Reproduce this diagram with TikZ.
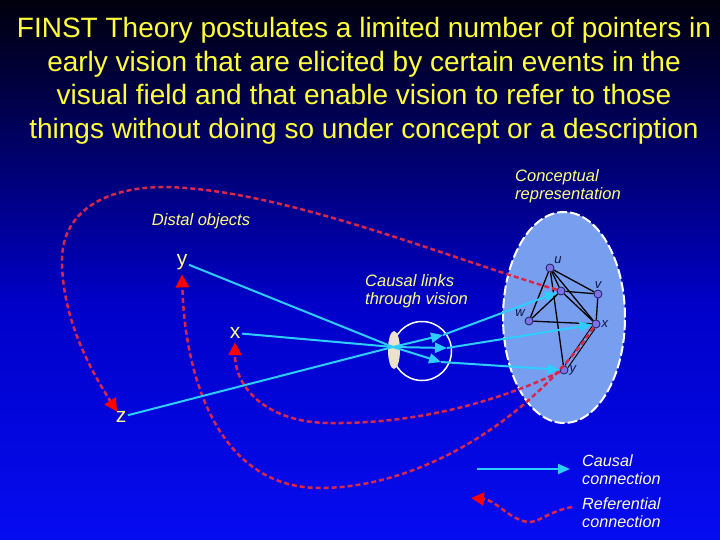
\documentclass[tikz,border=0pt]{standalone}
\usepackage{fontspec}
\setmainfont{Liberation Sans}
\usetikzlibrary{arrows.meta,shapes.geometric}

\definecolor{bgtop}{RGB}{0,0,12}
\definecolor{bga}{RGB}{0,0,105}
\definecolor{bgb}{RGB}{0,0,200}
\definecolor{bgbot}{RGB}{5,12,240}
\definecolor{ttl}{RGB}{255,255,60}
\definecolor{lbl}{RGB}{255,255,130}
\definecolor{lgd}{RGB}{255,255,205}
\definecolor{raycol}{RGB}{45,205,255}
\definecolor{refcol}{RGB}{215,40,75}
\definecolor{conc}{RGB}{120,158,240}
\definecolor{pntcol}{RGB}{125,115,230}
\definecolor{pntline}{RGB}{30,30,90}
\definecolor{clab}{RGB}{15,20,70}
\definecolor{lenscol}{RGB}{235,225,205}

\pgfdeclareverticalshading{bgfade}{100bp}{color(0bp)=(bgbot); color(25bp)=(bgbot);
  color(47bp)=(bgb); color(61bp)=(bga); color(75bp)=(bgtop); color(100bp)=(bgtop)}

\begin{document}
\begin{tikzpicture}[x=1pt,y=1pt,
    pnt/.style={circle,draw=pntline,fill=pntcol,inner sep=0pt,minimum size=8pt,line width=.8pt},
    clbl/.style={text=clab,font=\itshape\fontsize{13}{13}\selectfont,inner sep=1pt},
    dobj/.style={text=lbl,font=\fontsize{21}{21}\selectfont,inner sep=1.5pt},
    lab/.style={text=lbl,font=\itshape\fontsize{16.5}{18.5}\selectfont,align=left,inner sep=0pt},
    lgdtxt/.style={text=lgd,font=\itshape\fontsize{16.2}{18}\selectfont,align=left,inner sep=0pt},
    edge/.style={black,line width=1.3pt},
    ray/.style={draw=raycol,line width=2pt,-{Triangle[length=12pt,width=10pt]}},
    refline/.style={draw=refcol,line width=2.5pt,dash pattern=on 5pt off 3pt,
      -{Triangle[length=13pt,width=13pt,color=red]}}]

  % background
  \useasboundingbox (0,0) rectangle (720,-540);
  \shade[shading=bgfade] (0,0) rectangle (720,-540);

  % title
  \node[text=ttl,align=center,font=\fontsize{28}{33.5}\selectfont] (title) at (364,-81)
    {FINST Theory postulates a limited number of pointers in\\
     early vision that are elicited by certain events in the\\
     visual field and that enable vision to refer to those\\
     things without doing so under concept or a description};

  % conceptual representation
  \node[ellipse,draw=white,fill=conc,line width=2pt,dash pattern=on 10pt off 3pt,
    minimum width=122pt,minimum height=211pt] (rep) at (564,-317.5) {};
  \node[lab,anchor=west] (replab) at (515,-186) {Conceptual\\representation};

  \node[pnt,label={[clbl]above right:u}] (cu) at (550,-268) {};
  \node[pnt] (cc) at (561,-291) {};
  \node[pnt,label={[clbl]above:v}] (cv) at (598,-294) {};
  \node[pnt,label={[clbl]above left:w}] (cw) at (529,-321) {};
  \node[pnt,label={[clbl]right:x}] (cx) at (596,-324) {};
  \node[pnt,label={[clbl]right:y}] (cy) at (564,-370) {};

  \draw[edge] (cu) -- (cw);
  \draw[edge] (cu) -- (cc);
  \draw[edge] (cu) -- (cv);
  \draw[edge] (cu) -- (cx);
  \draw[edge] (cu) -- (cy);
  \draw[edge] (cc) -- (cw);
  \draw[edge] (cc) -- (cv);
  \draw[edge] (cc) -- (cx);
  \draw[edge] (cw) -- (cx);
  \draw[edge] (cv) -- (cx);
  \draw[edge,double=conc,double distance=2.5pt,line width=1.1pt] (cx) -- (cy);

  % distal objects
  \node[lab] (distlab) at (201,-221) {Distal objects};
  \node[dobj] (dy) at (182,-262) {y};
  \node[dobj] (dx) at (235,-333) {x};
  \node[dobj] (dz) at (121,-417) {z};

  % eye
  \node[circle,draw=white,line width=1.5pt,minimum size=59pt,inner sep=0pt] (eye) at (422,-351) {};
  \node[ellipse,fill=lenscol,minimum width=12pt,minimum height=38pt,inner sep=0pt] (lens) at (394,-350) {};
  \node[lab,anchor=west] (vislab) at (365,-291) {Causal links\\through vision};
  \coordinate (lc) at (393,-347);
  \coordinate (rt) at (443,-335);
  \coordinate (rm) at (447,-348);
  \coordinate (rb) at (441,-362);

  % referential connections
  \draw[refline] (cc) .. controls (440,-255) and (280,-189) .. (165,-187)
    .. controls (100,-187) and (62,-215) .. (62,-260)
    .. controls (62,-320) and (92,-372) .. ([shift={(3pt,-2pt)}]dz.north west);
  \draw[refline] (cx) .. controls (530,-420) and (420,-488) .. (320,-488)
    .. controls (220,-488) and (185,-380) .. ([yshift=-3pt]dy.south);
  \draw[refline] (cy) .. controls (490,-405) and (410,-424) .. (330,-423)
    .. controls (270,-423) and (235,-390) .. ([yshift=-2pt]dx.south);

  % causal links
  \draw[ray] (dz) -- (lc) -- (rt);
  \draw[ray] (dy) -- (lc) -- (rb);
  \draw[ray] (dx) -- (lc) -- (rm);
  \draw[ray] (rt) -- (cc);
  \draw[ray] (rm) -- (cx);
  \draw[ray] (rb) -- (cy);

  % legend
  \coordinate (lg1) at (477,-469);
  \coordinate (lg2) at (570,-469);
  \coordinate (lg3) at (572,-507);
  \coordinate (lg4) at (471,-498);
  \draw[ray] (lg1) -- (lg2);
  \node[lgdtxt,anchor=west] (cauleg) at (582,-470) {Causal\\connection};
  \draw[refline] (lg3) .. controls (545,-512) and (537,-526) .. (523,-521)
    .. controls (505,-515) and (495,-500) .. (lg4);
  \node[lgdtxt,anchor=west] (refleg) at (582,-513) {Referential\\connection};
\end{tikzpicture}
\end{document}
